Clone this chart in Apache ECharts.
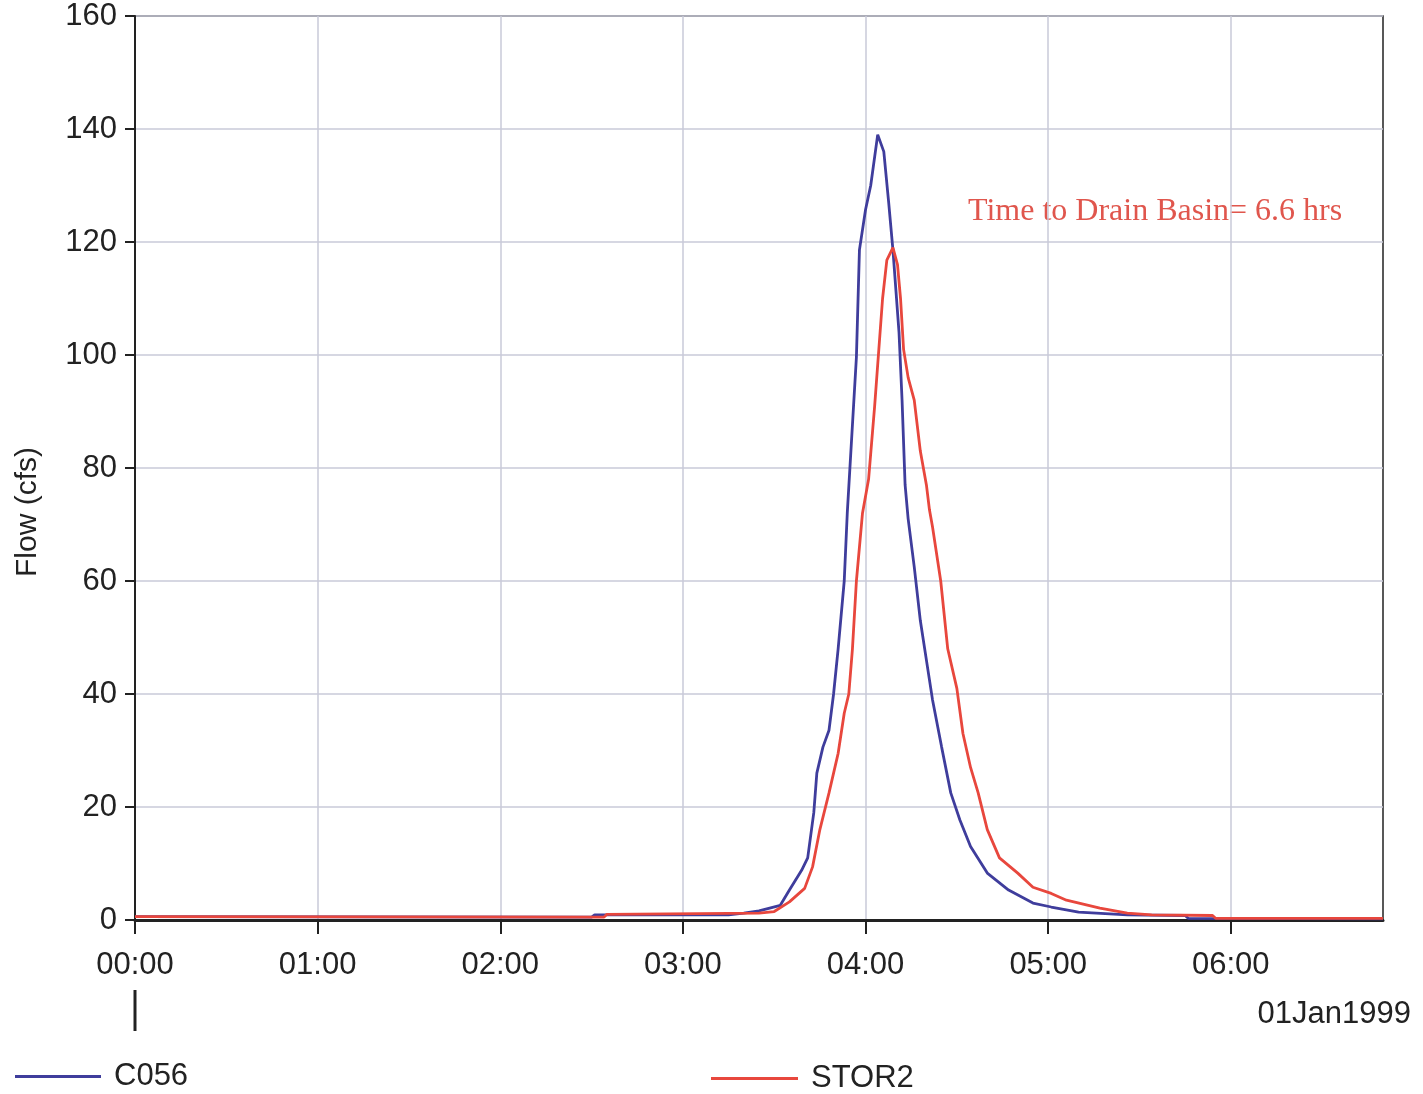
<!DOCTYPE html>
<html>
<head>
<meta charset="utf-8">
<script src="https://cdn.jsdelivr.net/npm/echarts@6/dist/echarts.min.js"></script>
<style>
html,body{margin:0;padding:0;background:#fff;}
#chart{width:1423px;height:1094px;}
</style>
</head>
<body>
<div id="chart"></div>
<script>
// time in minutes after 00:00, flow in cfs
var c056Time = [0,150,151,195,200,205,212,215,219,221,223,224,226,228,229.5,231,233,234,237,238,240,241.7,244,246,247.6,249,251,252,253,254,256,258,261,262,265,268,271,274.5,280,287,295,301,310,326,345,346,410];
var c056Flow = [0.6,0.5,0.9,0.9,1.2,1.6,2.6,5.3,8.8,11,19,26,30.6,33.6,40,48,60,72,99.6,118.6,125.7,130,139,136,127,118.6,104,92,77,71,62.5,53,42.5,39,30.6,22.5,17.7,13,8.3,5.3,3,2.3,1.4,0.9,0.8,0.3,0.2];

var stor2Time = [0,154,155,205,210,215,220,222.6,225,228,231,233,234.5,235.7,237,239,241,243,245.6,247,249,250.5,251.5,252.5,254,256,258,260,261,262,264.7,267,270,272,274.5,277,280,284,290,295,301,306,317,326,334,354,355,410];
var stor2Flow = [0.6,0.5,1.0,1.2,1.5,3.2,5.6,9.4,16,22.5,29.5,36.6,40,48,60,72,78,91,110,116.8,119,116,110,101,96,92,83,77,72.6,69.6,60,48,41,33,27,22.5,16,11,8.3,5.8,4.7,3.5,2.1,1.2,0.9,0.8,0.3,0.3];

var hourTicks = [0,60,120,180,240,300,360];
var seriesNames = ["C056","STOR2"];
var seriesColors = ["#3f3d9c","#e8473d"];
var annotation = "Time to Drain Basin= 6.6 hrs";
var dateLabel = "01Jan1999";

function pairs(t, v){
	var out = [];
	for(var i=0;i<t.length;i++){
		out.push([t[i], v[i]]);
	}
	return out;
}

function hhmm(m){
	var h = Math.floor(m/60), mm = Math.round(m%60);
	return (h<10?"0":"")+h+":"+(mm<10?"0":"")+mm;
}

var font = "Liberation Sans, Arial, sans-serif";
var chart = echarts.init(document.getElementById("chart"));

var option = {
	backgroundColor: "#fff",
	animation: false,
	grid: {
		left: 135, right: 40, top: 16, bottom: 174,
		show: true, borderColor: "#222", borderWidth: 1.5
	},
	legend: [{
		data: [seriesNames[0]],
		left: 10, top: 1056,
		icon: "rect",
		itemWidth: 86, itemHeight: 3,
		textStyle: {fontFamily: font, fontSize: 31, color: "#222", padding: [0,0,0,8]}
	},{
		data: [seriesNames[1]],
		left: 706, top: 1058,
		icon: "rect",
		itemWidth: 87, itemHeight: 3,
		textStyle: {fontFamily: font, fontSize: 31, color: "#222", padding: [0,0,0,8]}
	}],
	xAxis: {
		type: "value",
		min: 0, max: 410, interval: 60,
		axisLine: {show: true, lineStyle: {color: "#222", width: 3}},
		axisTick: {show: true, inside: false, length: 14, customValues: hourTicks, lineStyle: {color: "#222", width: 2}},
		axisLabel: {
			margin: 30, fontFamily: font, fontSize: 31, color: "#222",
			customValues: hourTicks,
			formatter: function(v){ return hhmm(v); }
		},
		splitLine: {show: true, lineStyle: {color: "#c8cad9", width: 1.5}}
	},
	yAxis: {
		type: "value",
		min: 0, max: 160, interval: 20,
		axisLine: {show: true, lineStyle: {color: "#222", width: 2}},
		axisTick: {show: true, inside: false, length: 10, lineStyle: {color: "#222", width: 2}},
		axisLabel: {margin: 18, fontFamily: font, fontSize: 31, color: "#222"},
		splitLine: {show: true, lineStyle: {color: "#c8cad9", width: 1.5}}
	},
	series: [{
		name: seriesNames[0],
		type: "line",
		symbol: "none",
		color: seriesColors[0],
		lineStyle: {width: 2.8, color: seriesColors[0]},
		data: pairs(c056Time, c056Flow),
		z: 3
	},{
		name: seriesNames[1],
		type: "line",
		symbol: "none",
		color: seriesColors[1],
		lineStyle: {width: 2.8, color: seriesColors[1]},
		data: pairs(stor2Time, stor2Flow),
		z: 4
	}],
	graphic: [{
		type: "text",
		left: 968, top: 196,
		style: {text: annotation, fill: "#e0564d", font: "32px 'Liberation Serif', 'DejaVu Serif', serif"}
	},{
		type: "text",
		right: 12, top: 999,
		style: {text: dateLabel, fill: "#222", font: "31px " + font}
	},{
		type: "text",
		x: 28, y: 512,
		rotation: Math.PI/2,
		style: {text: "Flow (cfs)", fill: "#222", font: "30px " + font, align: "center", verticalAlign: "middle"}
	},{
		type: "line",
		shape: {x1: 135, y1: 990, x2: 135, y2: 1031},
		style: {stroke: "#222", lineWidth: 3}
	}]
};

chart.setOption(option);
</script>
</body>
</html>
